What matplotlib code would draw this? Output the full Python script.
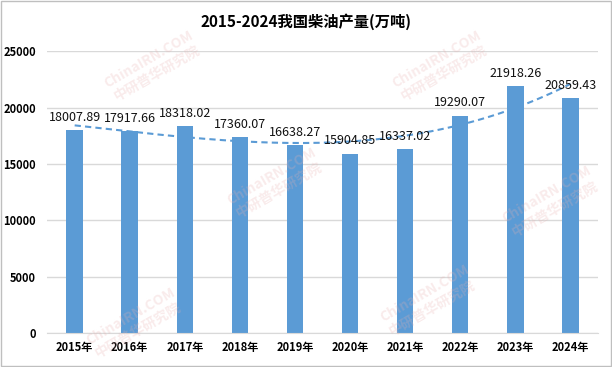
import matplotlib.pyplot as plt
import numpy as np

plt.rcParams['font.family'] = ['Noto Sans CJK SC', 'DejaVu Sans']

years = ['2015年', '2016年', '2017年', '2018年', '2019年',
         '2020年', '2021年', '2022年', '2023年', '2024年']
output = [18007.89, 17917.66, 18318.02, 17360.07, 16638.27,
          15904.85, 16337.02, 19290.07, 21918.26, 20859.43]

BAR_COLOR = '#5b9bd5'

fig = plt.figure(figsize=(6.12, 3.67), dpi=100)
ax = fig.add_axes([0.077, 0.0926, 0.9, 0.768])

x = np.arange(len(years))
ax.bar(x, output, width=0.3, color=BAR_COLOR, zorder=2)

# polynomial trendline fitted on the data
coef = np.polyfit(x, output, 3)
xs = np.linspace(x[0], x[-1], 200)
ax.plot(xs, np.polyval(coef, xs), color=BAR_COLOR, linestyle=(0, (3, 2)),
        linewidth=1.5, zorder=3)

for xi, v in zip(x, output):
    ax.text(xi, v + 550, f'{v:.2f}', ha='center', va='bottom',
            fontsize=9, fontweight='medium', color='#111111', zorder=4)

ax.set_xlim(-0.5, len(years) - 0.5)
ax.set_ylim(0, 25000)
ax.set_yticks(range(0, 25001, 5000))
ax.set_xticks(x)
ax.set_xticklabels(years, fontsize=8, fontweight='bold')
ax.tick_params(axis='y', labelsize=8, length=0, pad=8)
ax.tick_params(axis='x', length=0, pad=6)
for lbl in ax.get_yticklabels():
    lbl.set_fontweight('bold')
ax.yaxis.grid(True, color='#d9d9d9', linewidth=1, zorder=0)
for side in ['top', 'right', 'left']:
    ax.spines[side].set_visible(False)
ax.spines['bottom'].set_color('#d9d9d9')

fig.text(0.5, 0.94, '2015-2024我国柴油产量(万吨)', ha='center', va='center',
         fontsize=11, fontweight='bold')

# faint watermarks
for wx, wy in [(0.25, 0.82), (0.72, 0.82), (0.22, 0.12), (0.7, 0.18),
               (0.45, 0.5), (0.9, 0.45)]:
    fig.text(wx, wy, 'ChinaIRN.COM\n中研普华研究院', ha='center', va='center',
             fontsize=10, fontweight='bold', color='#e8b0b0', alpha=0.25,
             rotation=30, zorder=10)

fig.patches.append(plt.Rectangle((0.002, 0.003), 0.996, 0.994,
                                 transform=fig.transFigure, fill=False,
                                 edgecolor='#bfbfbf', linewidth=1))

fig.savefig('out.png', dpi=100)
